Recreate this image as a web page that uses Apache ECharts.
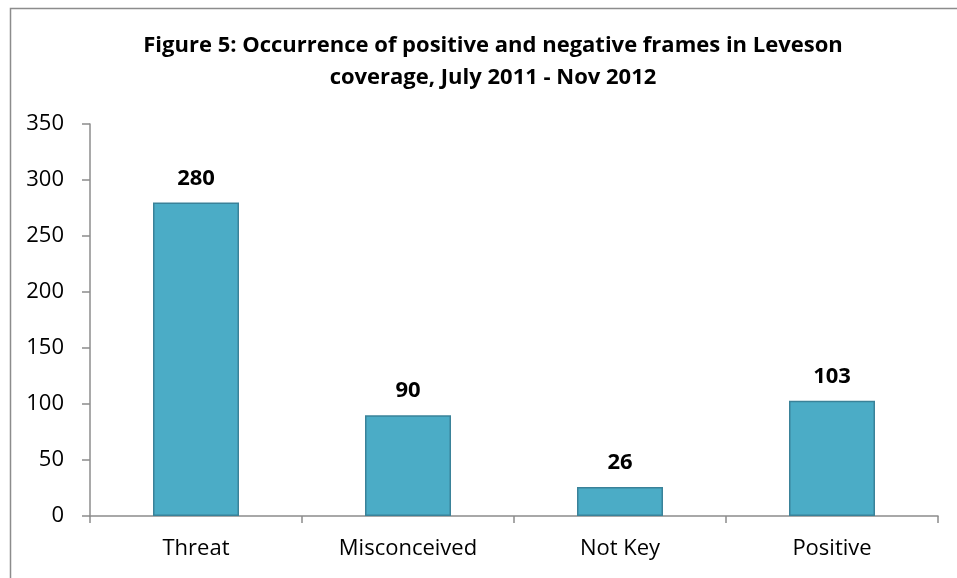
<!DOCTYPE html>
<html>
<head>
<meta charset="utf-8">
<script src="https://cdn.jsdelivr.net/npm/echarts@6/dist/echarts.min.js"></script>
<style>
  html, body { margin: 0; padding: 0; background: #fff; }
  #chart { width: 957px; height: 578px; }
</style>
</head>
<body>
<div id="chart"></div>
<script>
// chart data
const categories = ['Threat', 'Misconceived', 'Not Key', 'Positive']
const counts = [280, 90, 26, 103]
const yTicks = [0, 50, 100, 150, 200, 250, 300, 350]

const font = '"Open Sans", "Liberation Sans", sans-serif'
const chart = echarts.init(document.getElementById('chart'))

chart.setOption({
  animation: false,
  // outer frame of the chart area
  graphic: [{
    type: 'rect',
    left: 8,
    top: 6,
    shape: { width: 970, height: 600 },
    style: { fill: 'none', stroke: '#8c8c8c', lineWidth: 1.5 },
    silent: true
  }],
  title: {
    text: 'Figure 5: Occurrence of positive and negative frames in Leveson\ncoverage, July 2011 - Nov 2012',
    left: 488,
    top: 25,
    textAlign: 'center',
    textStyle: {
      fontFamily: font,
      fontSize: 22,
      fontWeight: 'bold',
      color: '#000',
      lineHeight: 32
    }
  },
  grid: {
    left: 90,
    right: 19,
    top: 124,
    bottom: 62
  },
  xAxis: {
    type: 'category',
    data: categories,
    axisLine: { lineStyle: { color: '#8c8c8c', width: 1.5 } },
    axisTick: { show: true, length: 7, lineStyle: { color: '#8c8c8c', width: 1.5 } },
    axisLabel: { fontFamily: font, fontSize: 22, color: '#000', margin: 22 }
  },
  yAxis: {
    type: 'value',
    min: yTicks[0],
    max: yTicks[yTicks.length - 1],
    interval: 50,
    axisLine: { show: true, lineStyle: { color: '#8c8c8c', width: 1.5 } },
    axisTick: { show: true, length: 8, lineStyle: { color: '#8c8c8c', width: 1.5 } },
    splitLine: { show: false },
    axisLabel: { fontFamily: font, fontSize: 22, color: '#000', margin: 26 }
  },
  series: [{
    type: 'bar',
    data: counts,
    barWidth: 86,
    itemStyle: {
      color: '#4bacc6',
      borderColor: '#3a8299',
      borderWidth: 1.5
    },
    label: {
      show: true,
      position: 'top',
      distance: 13,
      fontFamily: font,
      fontSize: 22,
      fontWeight: 'bold',
      color: '#000'
    }
  }]
})
</script>
</body>
</html>
